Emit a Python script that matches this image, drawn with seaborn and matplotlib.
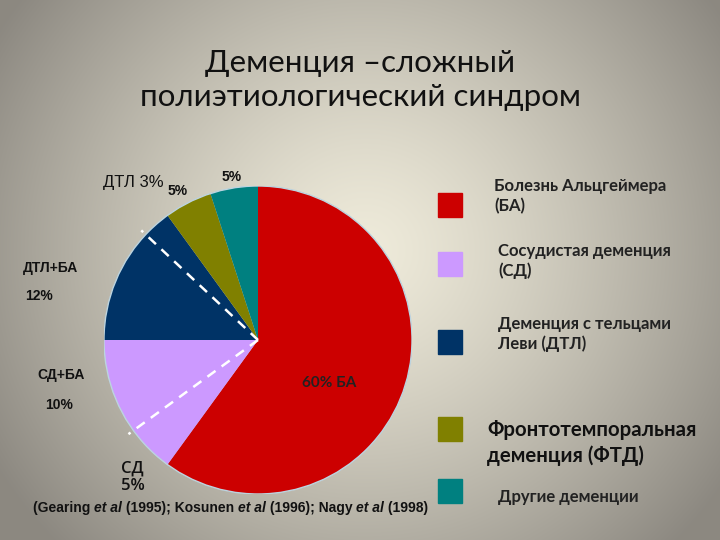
import numpy as np
import matplotlib
matplotlib.use("Agg")
import matplotlib.pyplot as plt
from matplotlib.patches import Rectangle
import seaborn as sns

# data
groups = ["БА", "СД", "ДТЛ", "ФТД", "Другие"]
shares = [60, 15, 15, 5, 5]
colors = ["#CC0000", "#CC99FF", "#003366", "#808000", "#008080"]
# sub-parts inside the pie (clockwise from top), split marks drawn dashed
sub_parts = [60, 5, 10, 12, 3, 5, 5]
split_after = [1, 3]  # dashed line after these sub-parts

legend_labels = ["Болезнь Альцгеймера\n(БА)", "Сосудистая деменция\n(СД)",
                 "Деменция с тельцами\nЛеви (ДТЛ)", "Фронтотемпоральная\nдеменция (ФТД)",
                 "Другие деменции"]
title = "Деменция –сложный\nполиэтиологический синдром"

sns.set_style("white")
plt.rcParams['font.family'] = ['Lato', 'DejaVu Sans']

W, H = 720, 540
fig = plt.figure(figsize=(7.2, 5.4), dpi=100)

# background: soft radial gradient
bg = fig.add_axes([0, 0, 1, 1])
yy, xx = np.mgrid[0:H, 0:W]
r = np.sqrt(((xx - 365) / 430.0) ** 2 + ((yy - 250) / 420.0) ** 2)
r = np.clip(r, 0, 1) ** 1.3
c0 = np.array([0.935, 0.92, 0.855])
c1 = np.array([0.55, 0.535, 0.505])
img = c0[None, None, :] * (1 - r[..., None]) + c1[None, None, :] * r[..., None]
bg.imshow(img, extent=[0, W, H, 0], aspect='auto')
bg.set_xlim(0, W)
bg.set_ylim(H, 0)
bg.axis('off')

# pie
cx, cy, rad = 258, 340, 154
ax = fig.add_axes([(cx - rad) / W, (H - cy - rad) / H, 2 * rad / W, 2 * rad / H])
wedges, _ = ax.pie(shares, colors=colors, startangle=90, counterclock=False,
                   wedgeprops=dict(linewidth=0))
ax.add_patch(plt.Circle((0, 0), 1, fill=False, ec="#bcd4e0", lw=1))
cum = np.cumsum(sub_parts) / np.sum(sub_parts)
for i in split_after:
    ang = np.deg2rad(90 - 360 * cum[i])
    ax.plot([0, 1.04 * np.cos(ang)], [0, 1.04 * np.sin(ang)], color="white",
            lw=1.8, ls=(0, (4, 3)), clip_on=False)
ax.set_xlim(-1, 1)
ax.set_ylim(-1, 1)
ax.set_aspect('equal')
ax.axis('off')

# overlay for text in pixel coordinates
ov = fig.add_axes([0, 0, 1, 1])
ov.set_xlim(0, W)
ov.set_ylim(H, 0)
ov.axis('off')

ov.text(360, 80, title, ha='center', va='center', fontsize=22.5, color='#111111',
        linespacing=1.3)

lab = dict(fontsize=10, fontweight='bold', color='#111111', va='center',
           family=['Liberation Sans', 'DejaVu Sans'])
ov.text(103, 182, "ДТЛ 3%", fontsize=12, color='#111111', va='center',
        family=['Liberation Sans', 'DejaVu Sans'])
ov.text(178, 191, "5%", ha='center', **lab)
ov.text(232, 177, "5%", ha='center', **lab)
ov.text(23, 268, "ДТЛ+БА", ha='left', **lab)
ov.text(25, 296, "12%", ha='left', **lab)
ov.text(37, 375, "СД+БА", ha='left', **lab)
ov.text(45, 405, "10%", ha='left', **lab)
ov.text(329, 383, "60% БА", ha='center', fontsize=11, fontweight='bold',
        color='#222222', va='center')
ov.text(121, 477, "СД\n5%", ha='left', va='center', fontsize=12,
        fontweight='semibold', color='#111111', linespacing=1.15,
        family=['Open Sans', 'DejaVu Sans'])

# citation with mixed styles
pieces = [("(Gearing ", 'normal'), ("et al", 'italic'), (" (1995); Kosunen ", 'normal'),
          ("et al", 'italic'), (" (1996); Nagy ", 'normal'), ("et al", 'italic'),
          (" (1998)", 'normal')]
fig.canvas.draw()
rend = fig.canvas.get_renderer()
x = 33
for txt, st in pieces:
    t = ov.text(x, 508, txt, fontsize=10, fontweight='bold', style=st,
                va='center', ha='left', color='#111111',
                family=['Liberation Sans', 'DejaVu Sans'])
    bb = t.get_window_extent(rend)
    x += bb.width

# legend
sq_y = [205, 264, 342, 429, 491]
txt_x = [494, 498, 498, 487, 498]
txt_y = [196, 261, 334, 443, 497]
for col, lbl, sy, tx, ty, i in zip(colors, legend_labels, sq_y, txt_x, txt_y, range(5)):
    ov.add_patch(Rectangle((438, sy - 12), 24, 24, color=col))
    if i == 3:
        ov.text(tx, ty, lbl, fontsize=14.7, fontweight='bold', va='center',
                ha='left', color='#111111', linespacing=1.27)
    else:
        ov.text(tx, ty, lbl, fontsize=12, fontweight='bold', va='center',
                ha='left', color='#222222', linespacing=1.3)

fig.savefig("out.png", dpi=100)
